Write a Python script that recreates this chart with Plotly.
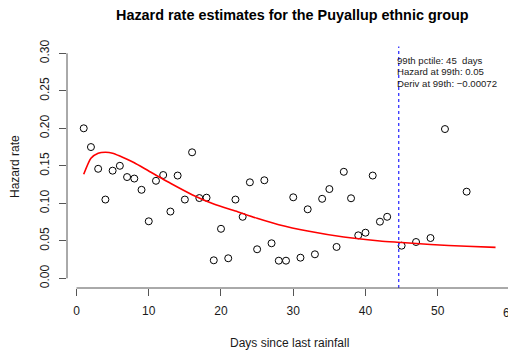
import plotly.graph_objects as go

# Observed hazard rates by day
days = [1, 2, 3, 4, 5, 6, 7, 8, 9, 10, 11, 12, 13, 14, 15, 16, 17, 18, 19, 20,
        21, 22, 23, 24, 25, 26, 27, 28, 29, 30, 31, 32, 33, 34, 35, 36, 37, 38,
        39, 40, 41, 42, 43, 45, 47, 49, 51, 54]
hazard = [0.200, 0.175, 0.146, 0.105, 0.1435, 0.150, 0.135, 0.133, 0.118, 0.076,
          0.130, 0.1377, 0.089, 0.137, 0.105, 0.168, 0.107, 0.1075, 0.024, 0.066,
          0.0267, 0.105, 0.082, 0.128, 0.0387, 0.1307, 0.0467, 0.0235, 0.0235, 0.108,
          0.0275, 0.092, 0.032, 0.106, 0.119, 0.0418, 0.142, 0.1067,
          0.0573, 0.0608, 0.137, 0.0755, 0.082, 0.0435, 0.0484, 0.0537, 0.199, 0.1155]

# Smoothed hazard estimate
fit_days = [1, 2, 3, 4, 5, 6, 7, 8, 10, 13, 16, 19, 22, 25, 28, 32, 37, 42, 45, 49, 54, 58]
fit_hazard = [0.1387, 0.160, 0.1667, 0.168, 0.1668, 0.163, 0.1587, 0.154, 0.143, 0.1267,
              0.1115, 0.099, 0.0897, 0.080, 0.0715, 0.063, 0.055, 0.0497, 0.0478,
              0.0450, 0.0427, 0.0413]

pctile_99 = 44.6
info_lines = ["99th pctile: 45  days", "Hazard at 99th: 0.05", "Deriv at 99th: \u22120.00072"]
info_y = [0.291, 0.2757, 0.2603]

x_ticks = [0, 10, 20, 30, 40, 50, 60]
y_ticks = [0.00, 0.05, 0.10, 0.15, 0.20, 0.25, 0.30]
y_tick_text = ["0.00", "0.05", "0.10", "0.15", "0.20", "0.25", "0.30"]

FONT = "Liberation Sans, Arial, Helvetica, sans-serif"
AX = "#555555"
TXT = "#1a1a1a"

# The page body has an 8px default margin, so the figure is 8px smaller
# and its margins are reduced by 8px on the left and top.
fig = go.Figure()
fig.add_trace(go.Scatter(
    x=days, y=hazard, mode="markers",
    marker=dict(symbol="circle-open", size=7, color="black", line=dict(width=1, color="black")),
    showlegend=False, hoverinfo="skip", cliponaxis=False))
fig.add_trace(go.Scatter(
    x=fit_days, y=fit_hazard, mode="lines",
    line=dict(color="red", width=1.6, shape="spline", smoothing=0.6),
    showlegend=False, hoverinfo="skip"))

shapes = [
    dict(type="line", xref="x", yref="paper", x0=pctile_99, x1=pctile_99, y0=0, y1=0.99,
         line=dict(color="#3333ff", width=1.3, dash="dot")),
    dict(type="line", xref="x", yref="paper", x0=x_ticks[0], x1=x_ticks[-1], y0=0, y1=0,
         line=dict(color=AX, width=1)),
    dict(type="line", xref="paper", yref="y", x0=0, x1=0, y0=y_ticks[0], y1=y_ticks[-1],
         line=dict(color=AX, width=1)),
]

annotations = []
for txt, yy in zip(info_lines, info_y):
    annotations.append(dict(text=txt, x=pctile_99, xref="x", y=yy, yref="y",
                            xanchor="left", yanchor="middle", xshift=-4, showarrow=False,
                            font=dict(family=FONT, size=9.6, color=TXT)))
annotations += [
    dict(text="<b>Hazard rate estimates for the Puyallup ethnic group</b>", x=0.506, y=1.119,
         xref="paper", yref="paper", xanchor="center", yanchor="middle", showarrow=False,
         font=dict(family=FONT, size=14.4, color="black")),
    dict(text="Days since last rainfall", x=0.5, y=-0.2254, xref="paper", yref="paper",
         xanchor="center", yanchor="middle", showarrow=False,
         font=dict(family=FONT, size=12, color=TXT)),
    dict(text="Hazard rate", x=-0.1169, y=0.5, xref="paper", yref="paper", textangle=-90,
         xanchor="center", yanchor="middle", showarrow=False,
         font=dict(family=FONT, size=12, color=TXT)),
    # last x tick label, which runs past the right edge as in the original
    dict(text=str(x_ticks[-1]), x=x_ticks[-1], xref="x", y=-0.1025, yref="paper",
         xanchor="center", yanchor="middle", showarrow=False,
         font=dict(family=FONT, size=12, color=TXT)),
]

fig.update_layout(
    width=508, height=346,
    margin=dict(l=59, r=4, t=36, b=66, autoexpand=False),
    paper_bgcolor="white", plot_bgcolor="white",
    font=dict(family=FONT, size=12, color=TXT),
    shapes=shapes, annotations=annotations,
    xaxis=dict(range=[-1.315, 60.28], tickvals=x_ticks, ticks="outside", ticklen=7,
               tickcolor=AX, showgrid=False, zeroline=False, showline=False, automargin=False,
               ticklabelstandoff=5, tickfont=dict(size=12, color=TXT)),
    yaxis=dict(range=[-0.01293, 0.3124], tickvals=y_ticks, ticktext=y_tick_text,
               ticks="outside", ticklen=7, tickcolor=AX, showgrid=False, zeroline=False,
               showline=False, automargin=False, tickangle=-90, ticklabelstandoff=5,
               tickfont=dict(size=12, color=TXT)),
)

fig.write_html("out.html")
